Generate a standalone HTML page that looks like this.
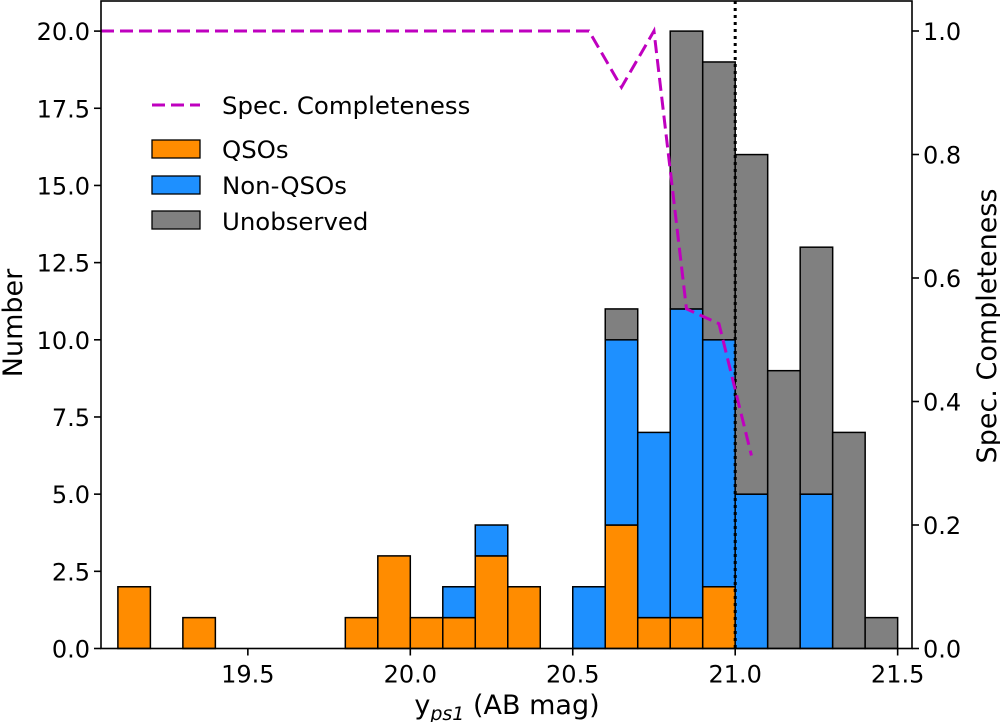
<!DOCTYPE html>
<html><head><meta charset="utf-8"><style>
body{margin:0;background:#fff;}
svg text{font-family:"DejaVu Sans","Liberation Sans",sans-serif;fill:#000;}
</style></head><body>
<svg id="chart" width="1000" height="722" viewBox="0 0 1000 722" xmlns="http://www.w3.org/2000/svg">
<g id="bars"></g>
<g id="overlay"></g>
<g id="axes"></g>
<g id="legend">
<line x1="152" y1="105" x2="200" y2="105" stroke="#bf00bf" stroke-width="3" stroke-dasharray="13,6"/>
<text x="222" y="114" font-size="24.4">Spec. Completeness</text>
<rect x="152" y="140" width="48" height="18" fill="#ff8c00" stroke="#000" stroke-width="1.3"/>
<text x="222" y="158" font-size="24.4">QSOs</text>
<rect x="152" y="176" width="48" height="18" fill="#1e90ff" stroke="#000" stroke-width="1.3"/>
<text x="222" y="194" font-size="24.4">Non-QSOs</text>
<rect x="152" y="211" width="48" height="18" fill="#808080" stroke="#000" stroke-width="1.3"/>
<text x="222" y="230" font-size="24.4">Unobserved</text>
</g>
</svg>
<script>
const binStart = 19.1;
const binWidth = 0.1;
const qsos =       [2,0,1,0,0,0,0,1,3,1,1,3,2,0,0,4,1,1,2,0,0,0,0,0];
const nonQsos =    [0,0,0,0,0,0,0,0,0,0,1,1,0,0,2,6,6,10,8,5,0,5,0,0];
const unobserved = [0,0,0,0,0,0,0,0,0,0,0,0,0,0,0,1,0,9,9,11,9,8,7,1];
const completenessMags = [19.048,20.55,20.65,20.75,20.85,20.95,21.05];
const completenessVals = [1.0,1.0,0.909,1.0,0.55,0.526,0.3125];
const xTicks = [19.5,20.0,20.5,21.0,21.5];
const yTicks = [0,2.5,5,7.5,10,12.5,15,17.5,20];
const y2Ticks = [0,0.2,0.4,0.6,0.8,1.0];
const cutMag = 21.0;

const X0=101, X1=912, Y0=648.5, YT=1;
function xs(m){return 410.3+(m-20)*324.9;}
function ys(v){return Y0-v*30.87;}
function ys2(v){return Y0-v*617.5;}
const NS='http://www.w3.org/2000/svg';
function mk(tag,attrs,parent){const e=document.createElementNS(NS,tag);for(const k in attrs)e.setAttribute(k,attrs[k]);parent.appendChild(e);return e;}
const bars=document.getElementById('bars');
const overlay=document.getElementById('overlay');
const axes=document.getElementById('axes');

for(let i=0;i<qsos.length;i++){
  const xa=xs(binStart+i*binWidth), xb=xs(binStart+(i+1)*binWidth);
  const segs=[[qsos[i],'#ff8c00','qso'],[nonQsos[i],'#1e90ff','nonqso'],[unobserved[i],'#808080','unobserved']];
  let base=0;
  for(const [v,c,n] of segs){
    if(v>0){
      const r=mk('rect',{x:xa,y:ys(base+v),width:xb-xa,height:ys(base)-ys(base+v),fill:c,stroke:'#000','stroke-width':1.5},bars);
      
      
    }
    base+=v;
  }
}
const vl=mk('line',{x1:xs(cutMag),x2:xs(cutMag),y1:YT,y2:Y0,stroke:'#000','stroke-width':3,'stroke-dasharray':'3,4'},overlay);


const pts=completenessMags.map((m,i)=>xs(m)+','+ys2(completenessVals[i])).join(' ');
const pl=mk('polyline',{points:pts,fill:'none',stroke:'#bf00bf','stroke-width':3,'stroke-dasharray':'13,6'},overlay);



const fr=mk('rect',{x:X0,y:YT,width:X1-X0,height:Y0-YT,fill:'none',stroke:'#000','stroke-width':1.6},axes);


for(const t of xTicks){
  const x=xs(t);
  mk('line',{x1:x,x2:x,y1:Y0,y2:Y0+7,stroke:'#000','stroke-width':1.6},axes);
  const tx=mk('text',{x:x,y:Y0+34,'font-size':24,'text-anchor':'middle'},axes);
  tx.textContent=t.toFixed(1);
  
  
}
for(const t of yTicks){
  const y=ys(t);
  mk('line',{x1:X0-7,x2:X0,y1:y,y2:y,stroke:'#000','stroke-width':1.6},axes);
  const tx=mk('text',{x:X0-11,y:y+9,'font-size':24,'text-anchor':'end'},axes);
  tx.textContent=t.toFixed(1);
  
  
}
for(const t of y2Ticks){
  const y=ys2(t);
  mk('line',{x1:X1,x2:X1+7,y1:y,y2:y,stroke:'#000','stroke-width':1.6},axes);
  const tx=mk('text',{x:X1+11,y:y+9,'font-size':24,'text-anchor':'start'},axes);
  tx.textContent=t.toFixed(1);
  
  
}
const xt=mk('text',{x:507,y:714,'font-size':27,'text-anchor':'middle'},axes);
xt.innerHTML='y<tspan font-size="19" font-style="italic" dy="6">ps1</tspan><tspan dy="-6"> (AB mag)</tspan>';


const yt=mk('text',{x:0,y:0,'font-size':27,'text-anchor':'middle',transform:'translate(22,323) rotate(-90)'},axes);
yt.textContent='Number';


const y2t=mk('text',{x:0,y:0,'font-size':27,'text-anchor':'middle',transform:'translate(996,326) rotate(-90)'},axes);
y2t.textContent='Spec. Completeness';


</script>
</body></html>
